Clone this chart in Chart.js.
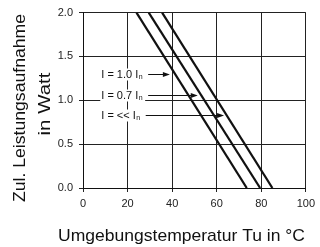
<!DOCTYPE html>
<html>
<head>
<meta charset="utf-8">
<script src="https://cdn.jsdelivr.net/npm/chart.js@4/dist/chart.umd.min.js"></script>
<style>
html,body{margin:0;padding:0;background:#fff;}
#c{display:block;}
</style>
</head>
<body>
<canvas id="c" width="320" height="247"></canvas>
<script>
// ---- data ----
const xTicks = [0, 20, 40, 60, 80, 100];
const yTicks = [0.0, 0.5, 1.0, 1.5, 2.0];
const powerEnds = [2.0, 0.0];            // Watt at the two ends of each curve
const tempCurve1 = [24.0, 73.5];         // I = 1.0 In
const tempCurve2 = [29.5, 79.5];         // I = 0.7 In
const tempCurve3 = [35.5, 85.0];         // I = << In
const curveNames = ['I = 1.0 In', 'I = 0.7 In', 'I = << In'];
const labelMain = ['I = 1.0 I', 'I = 0.7 I', 'I = << I'];
const labelSub = 'n';
const labelPower = [1.295, 1.06, 0.83];   // y value of each label / arrow
const arrowTipTemp = [39.0, 51.5, 63.3];  // x value where each arrow ends
const yTitle = ['Zul. Leistungsaufnahme', 'in Watt'];
const xTitle = 'Umgebungstemperatur Tu in °C';

const pts = (xs) => xs.map((x, i) => ({x: x, y: powerEnds[i]}));

const TITLE_FONT = '"Liberation Sans", Arial, sans-serif';
const TICK_FONT = '"Liberation Sans", Arial, sans-serif';

function fittedText(ctx, text, x, y, targetW, rot) {
  const w = ctx.measureText(text).width;
  ctx.save();
  ctx.translate(x, y);
  if (rot) ctx.rotate(rot);
  ctx.scale(targetW / w, 1);
  ctx.fillText(text, 0, 0);
  ctx.restore();
}

const annot = {
  id: 'annot',
  afterDatasetsDraw(chart) {
    const ctx = chart.ctx;
    const xs = chart.scales.x, ys = chart.scales.y;
    ctx.save();
    const labelLeft = xs.getPixelForValue(8.2);
    for (let i = 0; i < labelMain.length; i++) {
      const y = Math.round(ys.getPixelForValue(labelPower[i])) + 0.5;
      ctx.font = '11px ' + TICK_FONT;
      const w1 = ctx.measureText(labelMain[i]).width;
      ctx.font = '7px ' + TICK_FONT;
      const w2 = ctx.measureText(labelSub).width;
      const totalW = w1 + w2 + 1;
      ctx.fillStyle = '#fff';
      ctx.fillRect(labelLeft - 1, y - 6, totalW + 3, 12);
      ctx.fillStyle = '#111';
      ctx.textBaseline = 'middle';
      ctx.textAlign = 'left';
      ctx.font = '11px ' + TICK_FONT;
      ctx.fillText(labelMain[i], labelLeft, y);
      ctx.font = '7px ' + TICK_FONT;
      ctx.fillText(labelSub, labelLeft + w1 + 0.5, y + 3);
      const x0 = labelLeft + totalW + 5;
      const x1 = xs.getPixelForValue(arrowTipTemp[i]);
      ctx.strokeStyle = '#111';
      ctx.lineWidth = 1;
      ctx.beginPath();
      ctx.moveTo(x0, y);
      ctx.lineTo(x1 - 5, y);
      ctx.stroke();
      ctx.beginPath();
      ctx.moveTo(x1, y);
      ctx.lineTo(x1 - 7, y - 2.5);
      ctx.lineTo(x1 - 7, y + 2.5);
      ctx.closePath();
      ctx.fill();
    }
    // axis titles
    ctx.fillStyle = '#111';
    ctx.font = '17px ' + TITLE_FONT;
    ctx.textAlign = 'left';
    ctx.textBaseline = 'alphabetic';
    fittedText(ctx, xTitle, 58, 241, 247, 0);
    ctx.textAlign = 'center';
    fittedText(ctx, yTitle[0], 25, 108, 188, -Math.PI / 2);
    fittedText(ctx, yTitle[1], 50, 104, 63, -Math.PI / 2);
    ctx.restore();
  }
};

new Chart(document.getElementById('c'), {
  type: 'scatter',
  data: {
    datasets: [tempCurve1, tempCurve2, tempCurve3].map((t, i) => ({
      label: curveNames[i],
      data: pts(t),
      showLine: true,
      borderColor: '#111',
      backgroundColor: '#111',
      borderWidth: 2.2,
      pointRadius: 0,
      fill: false
    }))
  },
  options: {
    responsive: false,
    animation: false,
    devicePixelRatio: 1,
    layout: {padding: {top: 5, right: 10, left: 0, bottom: 0}},
    plugins: {legend: {display: false}, tooltip: {enabled: false}},
    scales: {
      x: {
        type: 'linear',
        min: 0, max: 100,
        afterBuildTicks: (s) => { s.ticks = xTicks.map(v => ({value: v})); },
        afterFit: (s) => { s.height = 59; },
        ticks: {
          color: '#222',
          font: {family: TICK_FONT, size: 11},
          padding: 5,
          maxRotation: 0,
          callback: (v) => String(v)
        },
        grid: {color: '#222', lineWidth: 1, tickLength: 4, drawTicks: true},
        border: {display: true, color: '#111', width: 1}
      },
      y: {
        type: 'linear',
        min: 0, max: 2,
        afterBuildTicks: (s) => { s.ticks = yTicks.map(v => ({value: v})); },
        afterFit: (s) => { s.width = 83; },
        ticks: {
          color: '#222',
          font: {family: TICK_FONT, size: 11},
          padding: 6,
          callback: (v) => Number(v).toFixed(1)
        },
        grid: {color: '#222', lineWidth: 1, tickLength: 4, drawTicks: true},
        border: {display: true, color: '#111', width: 1}
      }
    }
  },
  plugins: [annot]
});
</script>
</body>
</html>
